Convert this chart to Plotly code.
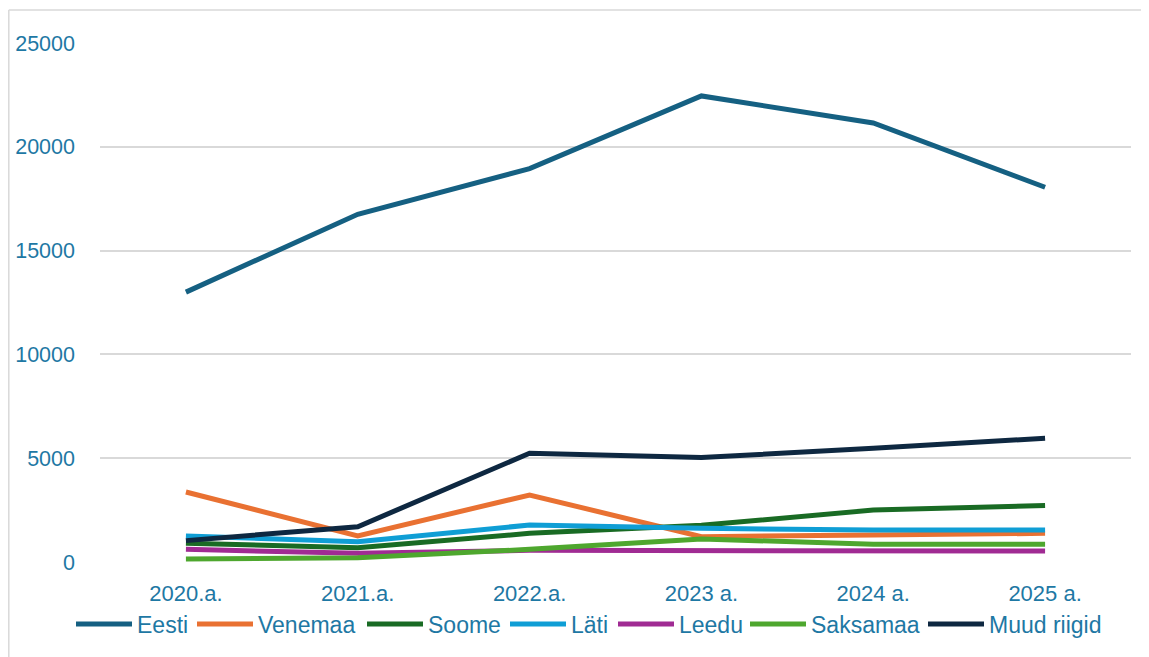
import plotly.graph_objects as go

years = ["2020.a.", "2021.a.", "2022.a.", "2023 a.", "2024 a.", "2025 a."]

eesti = [13000, 16750, 18950, 22450, 21150, 18050]
venemaa = [3370, 1260, 3230, 1220, 1300, 1380]
soome = [900, 690, 1380, 1770, 2500, 2720]
lati = [1250, 980, 1780, 1620, 1540, 1540]
leedu = [610, 420, 560, 540, 530, 530]
saksamaa = [145, 210, 610, 1110, 850, 850]
muud = [1030, 1700, 5240, 5030, 5480, 5960]

names = ["Eesti", "Venemaa", "Soome", "Läti", "Leedu", "Saksamaa", "Muud riigid"]
values = [eesti, venemaa, soome, lati, leedu, saksamaa, muud]
colors = ["#156082", "#E97132", "#196B24", "#0F9ED5", "#A02B93", "#4EA72E", "#0E2841"]

# screen x (px) where each legend entry's line symbol starts, as in the reference
legend_px = [77, 198, 368, 511, 619, 751, 929]
LEG_PAD = 6  # distance from a legend box's left edge to its symbol

text_color = "#1E78A4"
font_family = "Liberation Sans, Arial, sans-serif"

# page body has an 8px margin: the figure is drawn from screen (8, 8)
OFF = 8
PL, PR = 100, 1131   # plot area in screen px (x)
PT, PB = 43, 562     # plot area in screen px (y)
W, H = 1141, 660
PW, PH = PR - PL, PB - PT


def px_x(sx):
    return (sx - PL) / PW


def px_y(sy):
    return (PB - sy) / PH


fig = go.Figure()
layout_legends = {}
for i, (name, vals, col) in enumerate(zip(names, values, colors)):
    key = "legend" if i == 0 else f"legend{i + 1}"
    fig.add_trace(go.Scatter(
        x=years, y=vals, name=name, mode="lines",
        line=dict(color=col, width=5), legend=key,
    ))
    layout_legends[key] = dict(
        orientation="h", xref="container", yref="container",
        x=(legend_px[i] - LEG_PAD - OFF) / W, xanchor="left",
        y=1 - (624 - OFF) / H, yanchor="middle", bgcolor="rgba(0,0,0,0)",
        font=dict(size=23, color=text_color, family=font_family),
        itemwidth=56, borderwidth=0,
    )

fig.update_layout(
    width=W, height=H,
    margin=dict(l=PL - OFF, r=W - (PR - OFF), t=PT - OFF, b=H - (PB - OFF)),
    paper_bgcolor="white", plot_bgcolor="white",
    font=dict(family=font_family, size=20, color=text_color),
    showlegend=True,
    xaxis=dict(type="category", range=[-0.5, 5.5], showgrid=False, showline=False,
               zeroline=False, ticks="", ticklabelstandoff=16, automargin=False,
               tickfont=dict(size=22, color=text_color)),
    yaxis=dict(range=[0, 25000], tickvals=[0, 5000, 10000, 15000, 20000, 25000],
               tickformat="d", showgrid=True, gridcolor="#D9D9D9", gridwidth=1.5,
               zeroline=False, showline=False, ticks="", ticklabelstandoff=24,
               automargin=False, tickfont=dict(size=21.5, color=text_color)),
    shapes=[
        dict(type="line", xref="paper", yref="paper", x0=px_x(8.8), x1=px_x(1160),
             y0=px_y(10), y1=px_y(10), line=dict(color="#D9D9D9", width=1.5)),
        dict(type="line", xref="paper", yref="paper", x0=px_x(8.8), x1=px_x(8.8),
             y0=px_y(10), y1=px_y(680), line=dict(color="#D9D9D9", width=1.5)),
    ],
    **layout_legends,
)

fig.write_html("out.html")
